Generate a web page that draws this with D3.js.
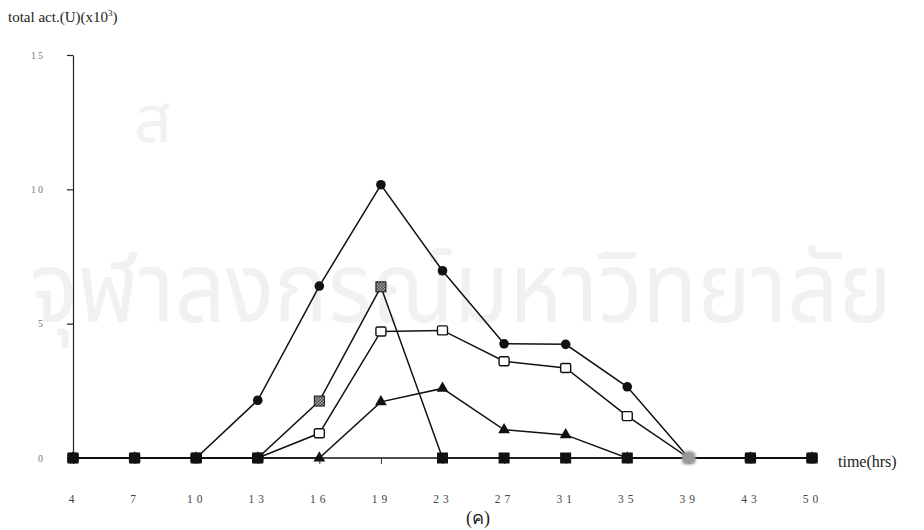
<!DOCTYPE html>
<html>
<head>
<meta charset="utf-8">
<script src="https://cdn.jsdelivr.net/npm/d3@7/dist/d3.min.js"></script>
<style>
  html, body { margin: 0; padding: 0; background: #fff; }
  svg { display: block; }
</style>
</head>
<body>
<div id="chart"></div>
<script>
// Sampling times (hrs) – evenly spaced categories on the x axis
const categories = ["4", "7", "10", "13", "16", "19", "23", "27", "31", "35", "39", "43", "50"];

// Total activity (U x 10^3) for the four cultures
const circleSeries       = [0, 0, 0, 2.15, 6.4, 10.17, 6.97, 4.25, 4.23, 2.65, 0, 0, 0];
const filledSquareSeries = [0, 0, 0, 0, 2.12, 6.37, 0, 0, 0, 0, 0, 0, 0];
const openSquareSeries   = [0, 0, 0, 0, 0.92, 4.71, 4.75, 3.6, 3.35, 1.56, 0, 0, 0];
const triangleSeries     = [0, 0, 0, 0, 0, 2.09, 2.59, 1.05, 0.86, 0, 0, 0, 0];

const yTicks = [0, 5, 10, 15];

const W = 924, H = 530;
const svg = d3.select("#chart").append("svg").attr("width", W).attr("height", H);

const defs = svg.append("defs");
defs.append("filter").attr("id", "smudge")
  .attr("x", "-50%").attr("y", "-50%").attr("width", "200%").attr("height", "200%")
  .append("feGaussianBlur").attr("stdDeviation", 1.6);
const pat = defs.append("pattern").attr("id", "checker")
  .attr("width", 3).attr("height", 3).attr("patternUnits", "userSpaceOnUse");
pat.append("rect").attr("width", 3).attr("height", 3).attr("fill", "#444");
pat.append("rect").attr("width", 1.5).attr("height", 1.5).attr("fill", "#aaa");
pat.append("rect").attr("x", 1.5).attr("y", 1.5).attr("width", 1.5).attr("height", 1.5).attr("fill", "#aaa");

// Faint background watermark
const wm = svg.append("g").attr("fill", "#f1f1f1")
  .style("font-family", "'Noto Sans Thai', 'Noto Sans', 'DejaVu Sans', sans-serif");
wm.append("text").attr("x", 134).attr("y", 142).attr("font-size", 66).text("ส");
wm.append("text").attr("x", 30).attr("y", 322).attr("font-size", 98)
  .attr("textLength", 862).attr("lengthAdjust", "spacingAndGlyphs")
  .text("จุฬาลงกรณ์มหาวิทยาลัย");

const x = d3.scalePoint().domain(categories).range([73, 812]);
const y = d3.scaleLinear().domain([0, 15]).range([458, 55]);

const serif = "'Liberation Serif', 'Times New Roman', serif";

// Y axis
const yAxis = svg.append("g").attr("transform", "translate(73,0)")
  .call(d3.axisLeft(y).tickValues(yTicks).tickSize(6).tickSizeOuter(0).tickPadding(22));
yAxis.select(".domain").attr("stroke", "#222").attr("stroke-width", 1.2);
yAxis.selectAll(".tick line").attr("stroke", "#222").attr("stroke-width", 1.2);
yAxis.selectAll(".tick text").attr("fill", "#777").style("font-family", serif)
  .style("font-size", "10px").style("letter-spacing", "2px");

// X axis
const xAxis = svg.append("g").attr("transform", "translate(0,458)")
  .call(d3.axisBottom(x).tickSize(6).tickSizeOuter(0).tickPadding(31));
xAxis.select(".domain").attr("d", "M73,0H816").attr("stroke", "#111").attr("stroke-width", 1.5);
xAxis.selectAll(".tick line").attr("stroke", "#333").attr("stroke-width", 1);
xAxis.selectAll(".tick text").attr("fill", "#444").style("font-family", serif)
  .style("font-size", "11.5px").style("letter-spacing", "4px");

// Axis titles and figure caption
const t1 = svg.append("text").attr("x", 8).attr("y", 22)
  .style("font-family", serif).style("font-size", "15px").attr("fill", "#222");
t1.append("tspan").text("total act.(U)(x10");
t1.append("tspan").attr("dy", -6).style("font-size", "9px").text("3");
t1.append("tspan").attr("dy", 6).text(")");

svg.append("text").attr("x", 838).attr("y", 467)
  .style("font-family", serif).style("font-size", "16px").attr("fill", "#222")
  .text("time(hrs)");

svg.append("text").attr("x", 478).attr("y", 524).attr("text-anchor", "middle")
  .style("font-family", serif).style("font-size", "18px").attr("fill", "#222")
  .text("(ค)");

// Series
const series = [
  { name: "triangle", values: triangleSeries },
  { name: "openSquare", values: openSquareSeries },
  { name: "filledSquare", values: filledSquareSeries },
  { name: "circle", values: circleSeries }
];

const line = d3.line().x((d, i) => x(categories[i])).y(d => y(d));

svg.append("g").selectAll("path").data(series).join("path")
  .attr("d", s => line(s.values))
  .attr("fill", "none").attr("stroke", "#111").attr("stroke-width", 1.5);

const smudged = "39";

series.forEach(s => {
  const g = svg.append("g");
  const pts = s.values.map((v, i) => ({ c: categories[i], v }));
  pts.forEach(p => {
    const cx = x(p.c), cy = y(p.v);
    const isSmudge = p.c === smudged;
    let m;
    if (s.name === "circle") {
      m = g.append("circle").attr("cx", cx).attr("cy", cy).attr("r", 4.8)
        .attr("fill", "#111");
    } else if (s.name === "filledSquare") {
      m = g.append("rect").attr("x", cx - 5).attr("y", cy - 5).attr("width", 10).attr("height", 10)
        .attr("fill", p.v > 0 ? "url(#checker)" : "#111").attr("stroke", "#111").attr("stroke-width", 1);
    } else if (s.name === "openSquare") {
      m = g.append("rect").attr("x", cx - 5).attr("y", cy - 4.5).attr("width", 10).attr("height", 9)
        .attr("rx", 1.5).attr("fill", p.v > 0 ? "#fff" : "#111").attr("stroke", "#111").attr("stroke-width", 1.4);
    } else {
      m = g.append("path")
        .attr("d", d3.symbol().type(d3.symbolTriangle).size(60)())
        .attr("transform", `translate(${cx},${cy})`).attr("fill", "#111");
    }
    if (isSmudge) {
      m.attr("fill", "#999").attr("stroke", "#999").attr("filter", "url(#smudge)");
    }
  });
});
</script>
</body>
</html>
